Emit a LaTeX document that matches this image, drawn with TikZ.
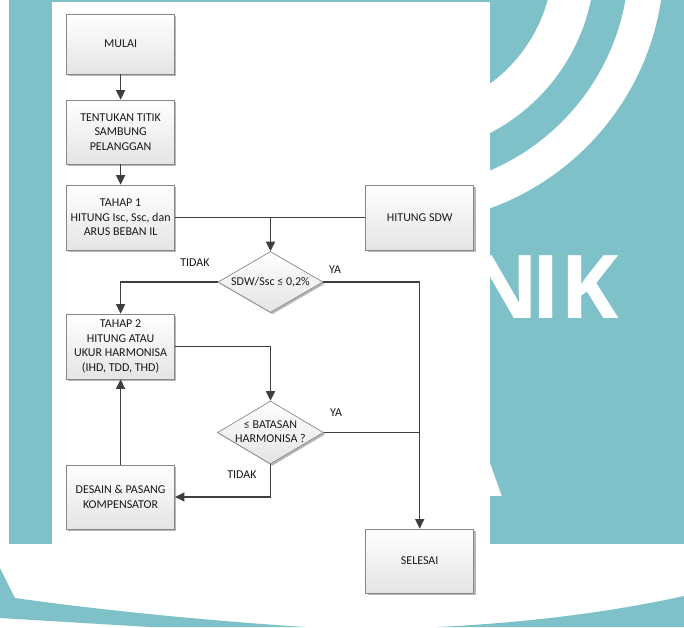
\documentclass[tikz,border=0pt]{standalone}
\usepackage{fontspec}
\setmainfont{Carlito}
\newfontfamily\wmfont{Open Sans}
\usetikzlibrary{arrows.meta,shapes.geometric,shadows}
\definecolor{bgteal}{RGB}{127,193,201}
\definecolor{linecol}{RGB}{62,62,62}
\definecolor{boxborder}{RGB}{135,135,135}
\definecolor{boxbot}{RGB}{228,228,228}
\definecolor{txt}{RGB}{25,25,25}
\begin{document}
\begin{tikzpicture}[x=1pt,y=-1pt,
  box/.style={draw=boxborder, line width=0.7pt, top color=white, bottom color=boxbot,
    minimum width=108pt, minimum height=64pt, inner sep=0pt, align=center, text=txt,
    font=\fontsize{12}{14.4}\selectfont,
    drop shadow={shadow xshift=1.8pt, shadow yshift=-1.8pt, fill=black!40, opacity=0.7}},
  dec/.style={diamond, draw=boxborder, line width=0.7pt, top color=white, bottom color=boxbot,
    minimum width=106pt, minimum height=62pt, inner sep=0pt, text=txt,
    font=\fontsize{12}{14.4}\selectfont,
    drop shadow={shadow xshift=1.8pt, shadow yshift=-1.8pt, fill=black!40, opacity=0.7}},
  conn/.style={draw=linecol, line width=1.3pt},
  arr/.style={conn, -{Triangle[length=9.5pt,width=9pt]}},
  lbl/.style={font=\fontsize{12}{14.4}\selectfont, text=txt, inner sep=0pt},
  wm/.style={text=white, font=\wmfont\bfseries\fontsize{88}{88}\selectfont, inner sep=0pt, anchor=base east}
]
\useasboundingbox (0,0) rectangle (684,627);
% background watermark
\fill[white] (0,0) rectangle (684,627);
\fill[bgteal] (9,0) rectangle (684,543.5);
\begin{scope}
  \clip (489.5,0) rectangle (684,543.5);
  \draw[white, line width=42pt] (400,-40) circle[radius=174];
  \draw[white, line width=35pt] (400,-40) circle[radius=246.5];
\end{scope}
\node[wm] (wmnik) at (619,318) {N\kern-8pt IK};
\node[wm] (wma) at (502,496) {A};
\fill[white] (51.5,1.5) rectangle (489.5,592);
\fill[bgteal] (0,568) -- (15,598) .. controls (100,610) and (200,620) .. (305,627) -- (150,627) -- (0,618) -- cycle;
\fill[bgteal] (437,627) .. controls (540,622) and (620,610) .. (684,596) -- (684,627) -- cycle;

% flowchart
\node[box, minimum height=60pt] (mulai) at (120.6,44) {MULAI};
\node[box] (tentukan) at (120.6,132) {TENTUKAN TITIK\\SAMBUNG\\PELANGGAN};
\node[box, minimum height=65pt] (tahap1) at (120.6,217.5) {TAHAP 1\\HITUNG Isc, Ssc, dan\\ARUS BEBAN IL};
\node[box, minimum height=65pt] (sdw) at (419.7,217.5) {HITUNG SDW};
\node[dec, minimum width=105pt, minimum height=61pt] (d1) at (270.5,282) {\makebox[0pt]{SDW/Ssc ≤ 0,2\%}};
\node[box, minimum height=65pt] (tahap2) at (120.6,346.5) {TAHAP 2\\HITUNG ATAU\\UKUR HARMONISA\\(IHD, TDD, THD)};
\node[dec, minimum height=63pt] (d2) at (270.5,432.5) {\makebox[0pt]{\begin{tabular}{@{}c@{}}≤ BATASAN\\HARMONISA ?\end{tabular}}};
\node[box] (desain) at (120.6,497) {DESAIN \& PASANG\\KOMPENSATOR};
\node[box] (selesai) at (419.7,561) {SELESAI};

\node[lbl] (ltidak1) at (195,263) {TIDAK};
\node[lbl] (lya1) at (335,270) {YA};
\node[lbl] (lya2) at (336,413) {YA};
\node[lbl] (ltidak2) at (242,475) {TIDAK};

\draw[arr] (mulai) -- (tentukan);
\draw[arr] (tentukan) -- (tahap1);
\draw[conn] (tahap1.east) -- (sdw.west);
\coordinate (j1) at (d1.north |- tahap1.east);
\draw[arr] (j1) -- (d1.north);
\draw[arr] (d1.west) -| (tahap2.north);
\draw[arr] (d1.east) -| (selesai.north);
\draw[arr] (tahap2.east) -| (d2.north);
\coordinate (j2) at (d2.east -| selesai.north);
\draw[conn] (d2.east) -- (j2);
\draw[arr] (d2.south) |- (desain.east);
\draw[arr] (desain.north) -- (tahap2.south);
\end{tikzpicture}
\end{document}
